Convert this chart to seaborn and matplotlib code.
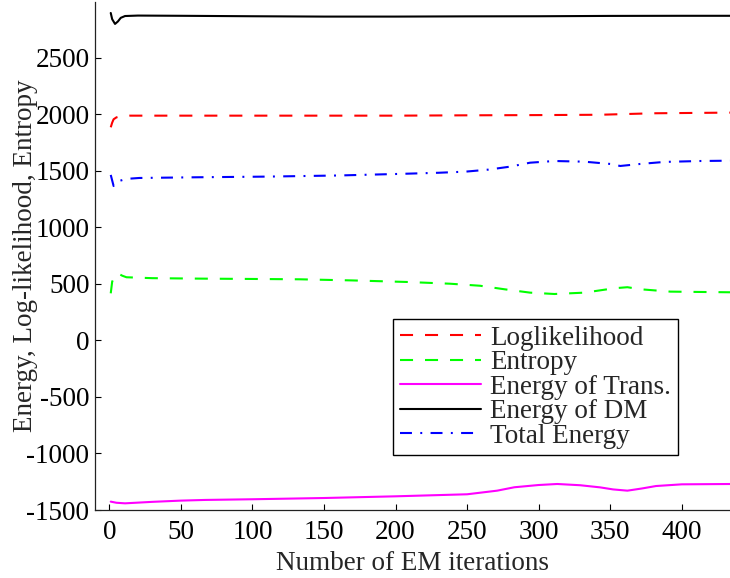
import matplotlib
matplotlib.use("Agg")
import matplotlib.pyplot as plt
import seaborn as sns

# ---- data ----
red_x = [1, 2, 3, 5, 8, 14, 50, 100, 150, 200, 250, 300, 343, 380, 435]
red_y = [1884, 1925, 1955, 1972, 1982, 1987, 1987, 1987, 1987, 1987, 1990, 1992, 1995, 2008, 2014]

green_x = [1, 2, 4, 6, 9, 12, 30, 63, 100, 133, 170, 209, 238, 259, 276, 294, 311, 332, 353, 362, 371, 392, 413, 435]
green_y = [416, 519, 575, 593, 572, 558, 550, 546, 543, 540, 530, 516, 501, 483, 452, 422, 410, 422, 461, 470, 452, 431, 428, 425]

mag_x = [1, 5, 11, 30, 50, 67, 100, 150, 200, 250, 271, 283, 300, 313, 329, 343, 352, 362, 372, 382, 400, 435]
mag_y = [-1426, -1436, -1441, -1428, -1417, -1411, -1405, -1394, -1379, -1361, -1329, -1299, -1279, -1270, -1281, -1300, -1318, -1329, -1310, -1288, -1273, -1270]

dm_x = [1, 2, 4, 6, 8, 11, 20, 50, 100, 150, 200, 250, 300, 350, 400, 435]
dm_y = [2895, 2840, 2798, 2820, 2852, 2868, 2872, 2870, 2866, 2863, 2863, 2865, 2866, 2869, 2870, 2870]

blue_x = [1, 3, 5, 7, 12, 21, 60, 110, 160, 203, 230, 249, 265, 280, 294, 311, 332, 350, 357, 371, 388, 413, 435]
blue_y = [1463, 1365, 1385, 1410, 1428, 1436, 1442, 1448, 1458, 1472, 1482, 1492, 1510, 1536, 1571, 1586, 1580, 1560, 1542, 1560, 1578, 1586, 1589]

labels = ["Loglikelihood", "Entropy", "Energy of Trans.", "Energy of DM", "Total Energy"]
x_ticks = [0, 50, 100, 150, 200, 250, 300, 350, 400]
y_ticks = [-1500, -1000, -500, 0, 500, 1000, 1500, 2000, 2500]

# ---- style ----
sns.set_style("ticks")
plt.rcParams["font.family"] = ["Liberation Serif", "DejaVu Serif"]
plt.rcParams["axes.unicode_minus"] = False
plt.rcParams["lines.scale_dashes"] = False

FS = 19.5
fig = plt.figure(figsize=(7.3, 5.78), dpi=100)
ax = fig.add_axes([95 / 730, 1 - 510 / 578, 635 / 730, 508 / 578])

dash = (0, (9.4, 8.6))
dashdot = (0, (8.6, 6.0, 1.4, 6.0))
series = [
    (red_x, red_y, "#ff0000", dash),
    (green_x, green_y, "#00ff00", dash),
    (mag_x, mag_y, "#ff00ff", "-"),
    (dm_x, dm_y, "#000000", "-"),
    (blue_x, blue_y, "#0000ff", dashdot),
]
for (xs, ys, c, ls), lab in zip(series, labels):
    sns.lineplot(x=xs, y=ys, ax=ax, color=c, linestyle=ls, lw=1.5,
                 estimator=None, sort=False, label=lab, legend=False)

ax.set_xlim(-10, 433.7)
ax.set_ylim(-1500, 2992)
ax.set_xticks(x_ticks)
ax.set_yticks(y_ticks)
ax.set_xticklabels([str(v) for v in x_ticks])
ax.set_yticklabels([str(v) for v in y_ticks])
ax.tick_params(direction="in", length=4.3, width=0.8, labelsize=FS, colors="black")
ax.tick_params(axis="y", pad=4)
ax.tick_params(axis="x", pad=7.5)
for s in ["top", "right"]:
    ax.spines[s].set_visible(False)
for s in ["left", "bottom"]:
    ax.spines[s].set_color("#222222")
    ax.spines[s].set_linewidth(0.9)

ax.set_xlabel("Number of EM iterations", fontsize=FS, labelpad=4)
ax.set_ylabel("Energy, Log-likelihood, Entropy", fontsize=FS, labelpad=-8)

handles = ax.get_lines()[:5]
leg = ax.legend(handles, labels, loc="upper left", bbox_to_anchor=(393 / 730, 1 - 319 / 578),
                bbox_transform=fig.transFigure, borderaxespad=0, fontsize=FS,
                frameon=True, fancybox=False, shadow=False, framealpha=1,
                handlelength=3.0, handletextpad=0.35, labelspacing=-0.02, borderpad=0.25)
leg.get_frame().set_edgecolor("black")
leg.get_frame().set_linewidth(1.0)

fig.savefig("out.png", dpi=100)
